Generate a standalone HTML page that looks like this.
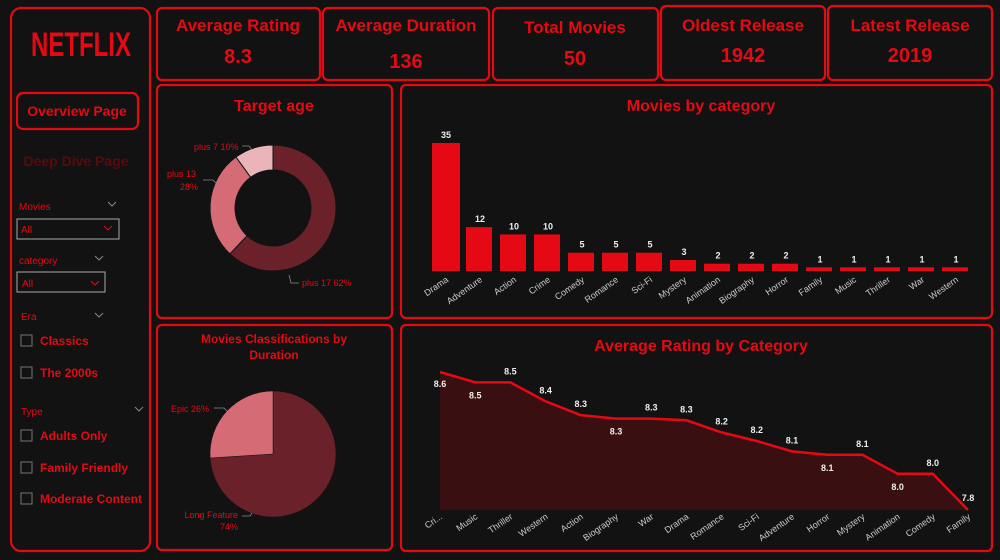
<!DOCTYPE html>
<html><head><meta charset="utf-8"><style>
html,body{margin:0;padding:0;background:#121212;}
svg{display:block;font-family:"Liberation Sans",sans-serif;}
</style></head><body>
<svg id="s" width="1000" height="560" viewBox="0 0 1000 560">
<rect x="0" y="0" width="1000" height="560" fill="#121212"/>
<g fill="none" stroke="#e50914" stroke-width="2.2">
<rect x="11" y="8" width="139" height="543" rx="10"/>
<rect x="157" y="8" width="163" height="72" rx="5"/>
<rect x="323" y="8" width="166" height="72" rx="5"/>
<rect x="493" y="8" width="165" height="72" rx="5"/>
<rect x="661" y="6" width="164" height="74" rx="5"/>
<rect x="828" y="6" width="164" height="74" rx="5"/>
<rect x="157" y="85" width="235" height="233" rx="5"/>
<rect x="401" y="85" width="591" height="233" rx="5"/>
<rect x="157" y="325" width="235" height="225" rx="5"/>
<rect x="401" y="325" width="591" height="226" rx="5"/>
<rect x="17" y="93" width="121" height="36" rx="6"/>
</g>
<g fill="#e50914" font-weight="bold" text-anchor="middle">
<text x="81" y="56" font-size="30" transform="translate(81 56) scale(0.8 1.15) translate(-81 -56)">NETFLIX</text>
<text x="77" y="116" font-size="14">Overview Page</text>
<text x="76" y="166" font-size="14" fill="#5a0a0c">Deep Dive Page</text>
<text x="238" y="31" font-size="17">Average Rating</text>
<text x="238" y="63" font-size="20">8.3</text>
<text x="406" y="31" font-size="17">Average Duration</text>
<text x="406" y="68" font-size="20">136</text>
<text x="575" y="33" font-size="17">Total Movies</text>
<text x="575" y="65" font-size="20">50</text>
<text x="743" y="31" font-size="17">Oldest Release</text>
<text x="743" y="62" font-size="20">1942</text>
<text x="910" y="31" font-size="17">Latest Release</text>
<text x="910" y="62" font-size="20">2019</text>
<text x="274" y="111" font-size="16">Target age</text>
<text x="701" y="111" font-size="16">Movies by category</text>
<text x="274" y="343" font-size="12">Movies Classifications by</text>
<text x="274" y="359" font-size="12">Duration</text>
<text x="701" y="351" font-size="16">Average Rating by Category</text>
</g>
<g font-size="10" fill="#e50914">
<text x="19" y="210">Movies</text>
<path d="M108 202l4 4 4-4" stroke="#888" fill="none"/>
<rect x="17" y="219" width="102" height="20" fill="#121212" stroke="#aaa"/>
<text x="21" y="233">All</text><path d="M104 226l4 4 4-4" stroke="#e50914" fill="none"/>
<text x="19" y="264">category</text>
<path d="M95 256l4 4 4-4" stroke="#888" fill="none"/>
<rect x="17" y="272" width="88" height="20" fill="#121212" stroke="#aaa"/>
<text x="22" y="287">All</text><path d="M91 281l4 4 4-4" stroke="#e50914" fill="none"/>
<text x="21" y="320">Era</text>
<path d="M95 313l4 4 4-4" stroke="#888" fill="none"/>
<text x="21" y="415">Type</text>
<path d="M135 407l4 4 4-4" stroke="#888" fill="none"/>
<g font-size="12" font-weight="bold">
<rect x="21" y="335" width="11" height="11" fill="none" stroke="#777"/><text x="40" y="345">Classics</text>
<rect x="21" y="367" width="11" height="11" fill="none" stroke="#777"/><text x="40" y="377">The 2000s</text>
<rect x="21" y="430" width="11" height="11" fill="none" stroke="#777"/><text x="40" y="440">Adults Only</text>
<rect x="21" y="462" width="11" height="11" fill="none" stroke="#777"/><text x="40" y="472">Family Friendly</text>
<rect x="21" y="493" width="11" height="11" fill="none" stroke="#777"/><text x="40" y="503">Moderate Content</text>
</g>
</g>
<g id="charts"></g>
</svg>
<script>
const barCats=["Drama","Adventure","Action","Crime","Comedy","Romance","Sci-Fi","Mystery","Animation","Biography","Horror","Family","Music","Thriller","War","Western"];
const barVals=[35,12,10,10,5,5,5,3,2,2,2,1,1,1,1,1];
const lineCats=["Cri...","Music","Thriller","Western","Action","Biography","War","Drama","Romance","Sci-Fi","Adventure","Horror","Mystery","Animation","Comedy","Family"];
const lineVals=[8.6,8.54,8.54,8.43,8.35,8.33,8.33,8.32,8.25,8.2,8.14,8.12,8.12,8.01,8.01,7.8];
const lineLabels=["8.6","8.5","8.5","8.4","8.3","8.3","8.3","8.3","8.2","8.2","8.1","8.1","8.1","8.0","8.0","7.8"];
const ageCats=["plus 17","plus 13","plus 7"];
const ageVals=[62,28,10];
const durCats=["Long Feature","Epic"];
const durVals=[74,26];
const NS="http://www.w3.org/2000/svg";
const g=document.getElementById('charts');
function el(t,a,p){const e=document.createElementNS(NS,t);for(const k in a)e.setAttribute(k,a[k]);(p||g).appendChild(e);return e;}
const bx0=429,bstep=34,bw=28,bBase=271,bH=128,bMax=Math.max(...barVals);
const bxs=i=>bx0+i*bstep, bys=v=>bBase-v/bMax*bH;
barCats.forEach((c,i)=>{
 const b=el('rect',{x:bxs(i)+3,y:bys(barVals[i]),width:bw-(i?2:0),height:bBase-bys(barVals[i]),fill:'#e50914'});
 
 
 const t=el('text',{x:bxs(i)+17,y:bys(barVals[i])-5,'font-size':9,'font-weight':'bold',fill:'#eee','text-anchor':'middle'});t.textContent=barVals[i];
 
 
 const l=el('text',{x:bxs(i)+20,y:281,'font-size':9,fill:'#ccc','text-anchor':'end',transform:`rotate(-35 ${bxs(i)+20} 281)`});l.textContent=c;
 
 
});
const lx0=440,lstep=(968-440)/15,lTop=372,lBot=510,lMax=8.6,lMin=7.8;
const lxs=i=>lx0+i*lstep, lys=v=>lTop+(lMax-v)/(lMax-lMin)*(lBot-lTop);
let d='';lineVals.forEach((v,i)=>d+=(i?'L':'M')+lxs(i)+' '+lys(v));
const area=el('path',{d:d+`L${lxs(15)} ${lBot}L${lxs(0)} ${lBot}Z`,fill:'#3a0f12'});


const line=el('path',{d:d,fill:'none',stroke:'#e50914','stroke-width':2.5});


const above=[0,0,1,1,1,0,1,1,1,1,1,0,1,0,1,1];
lineCats.forEach((c,i)=>{
 const y=lys(lineVals[i]);
 const t=el('text',{x:lxs(i),y:above[i]?y-8:y+16,'font-size':9,'font-weight':'bold',fill:'#eee','text-anchor':'middle'});
 if(i==0)t.setAttribute('y',y+15);
 if(i==15)t.setAttribute('y',y-9);
 t.textContent=lineLabels[i];
 
 
 const l=el('text',{x:lxs(i)+3,y:518,'font-size':9,fill:'#ccc','text-anchor':'end',transform:`rotate(-35 ${lxs(i)+3} 518)`});l.textContent=c;
 
 
});
function arc(cx,cy,r,ri,a0,a1){
 const p=(a,rr)=>[cx+rr*Math.sin(a),cy-rr*Math.cos(a)];
 const lg=(a1-a0)>Math.PI?1:0;
 const [x0,y0]=p(a0,r),[x1,y1]=p(a1,r);
 if(!ri) return `M${cx} ${cy}L${x0} ${y0}A${r} ${r} 0 ${lg} 1 ${x1} ${y1}Z`;
 const [x2,y2]=p(a1,ri),[x3,y3]=p(a0,ri);
 return `M${x0} ${y0}A${r} ${r} 0 ${lg} 1 ${x1} ${y1}L${x2} ${y2}A${ri} ${ri} 0 ${lg} 0 ${x3} ${y3}Z`;
}
const ageCols=['#6b2129','#d56b75','#e9b5b9'];
let tot=ageVals.reduce((a,b)=>a+b,0),a=0;
ageVals.forEach((v,i)=>{const a1=a+v/tot*2*Math.PI;
 const p=el('path',{d:arc(273,208,63,38,a,a1),fill:ageCols[i],stroke:'#121212','stroke-width':1});
 
 a=a1;});
const durCols=['#6b2129','#d56b75'];
tot=durVals.reduce((a,b)=>a+b,0);a=0;
durVals.forEach((v,i)=>{const a1=a+v/tot*2*Math.PI;
 const p=el('path',{d:arc(273,454,63,0,a,a1),fill:durCols[i],stroke:'#121212','stroke-width':0.5});
 
 a=a1;});
const labs=[[194,150,'plus 7 10%','start'],[167,177,'plus 13','start'],[198,190,'28%','end'],[302,286,'plus 17 62%','start'],[171,412,'Epic 26%','start'],[238,518,'Long Feature','end'],[238,530,'74%','end']];
labs.forEach(L=>{const t=el('text',{x:L[0],y:L[1],'font-size':9,fill:'#e50914','text-anchor':L[3]});t.textContent=L[2];
 
 });
[['M242 146h7l3 4'],['M203 180h10l5 5'],['M289 275l2 8h8'],['M214 408h10l4 4'],['M242 516h8l2-3']].forEach(q=>el('path',{d:q[0],stroke:'#888',fill:'none','stroke-width':0.8}));
</script>
</body></html>
